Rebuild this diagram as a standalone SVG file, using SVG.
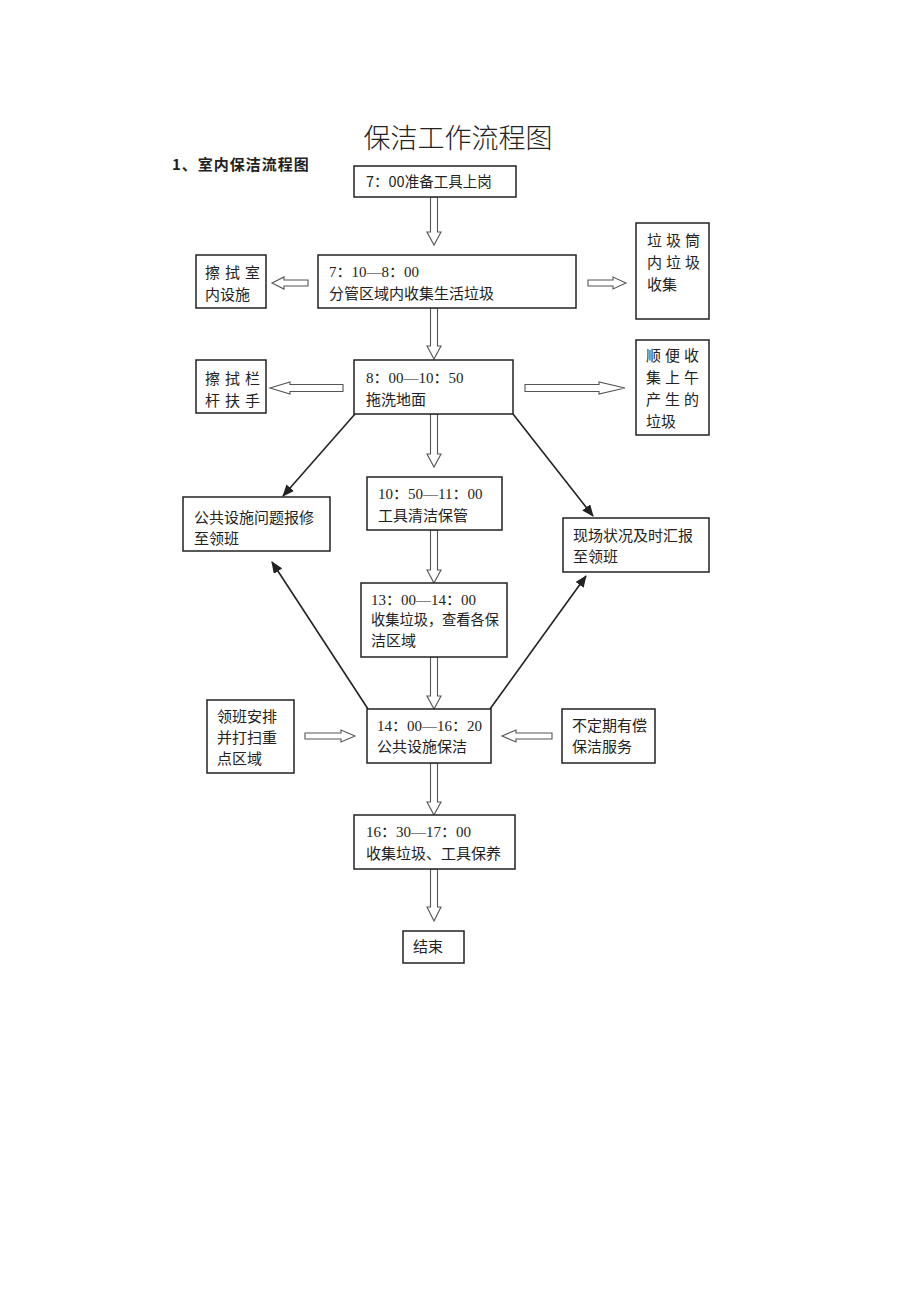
<svg xmlns="http://www.w3.org/2000/svg" width="920" height="1301" viewBox="0 0 920 1301">
<style>
.bx{fill:#fff;stroke:#222;stroke-width:1.5}
.t{font-family:"Liberation Serif","Noto Sans CJK SC",serif;font-size:15px;fill:#222}
.ts{font-family:"Noto Sans CJK SC",sans-serif;font-size:14.5px;fill:#222}
.sp{letter-spacing:5px}
.ha{fill:#fff;stroke:#555;stroke-width:1.1;stroke-linejoin:miter}
.dl{fill:none;stroke:#222;stroke-width:1.6}
</style>
<defs>
<marker id="ah" markerUnits="userSpaceOnUse" markerWidth="12" markerHeight="10" viewBox="0 0 12 10" refX="11" refY="5" orient="auto">
<path d="M0,0 L12,5 L0,10 z" fill="#222"/>
</marker>
</defs>
<rect width="920" height="1301" fill="#fff"/>
<text x="458" y="148" text-anchor="middle" font-family="Noto Sans CJK SC, sans-serif" font-size="27" fill="#222" font-weight="300">保洁工作流程图</text>
<text x="172" y="170" font-family="Noto Sans CJK SC, sans-serif" font-size="15" font-weight="bold" fill="#222" letter-spacing="1">1、室内保洁流程图</text>

<g id="connectors">
<polygon class="ha" points="430.5,197 437.5,197 437.5,232 441,232 434,245 427,232 430.5,232"/>
<polygon class="ha" points="430.5,308 437.5,308 437.5,346 441,346 434,359 427,346 430.5,346"/>
<polygon class="ha" points="430.5,414 437.5,414 437.5,454 441,454 434,467 427,454 430.5,454"/>
<polygon class="ha" points="430.5,530 437.5,530 437.5,570 441,570 434,583 427,570 430.5,570"/>
<polygon class="ha" points="430.5,657 437.5,657 437.5,696 441,696 434,709 427,696 430.5,696"/>
<polygon class="ha" points="430.5,763 437.5,763 437.5,802 441,802 434,815 427,802 430.5,802"/>
<polygon class="ha" points="430.5,869 437.5,869 437.5,907 441,907 434,921 427,907 430.5,907"/>
<polygon class="ha" points="308,280 308,286 284,286 284,289 272,283 284,277 284,280"/>
<polygon class="ha" points="588,280 613,280 613,277 626,283 613,289 613,286 588,286"/>
<polygon class="ha" points="343,384.5 343,391.5 290,391.5 290,394 270,388 290,382 290,384.5"/>
<polygon class="ha" points="525,384.5 599,384.5 599,382 625,388 599,394 599,391.5 525,391.5"/>
<polygon class="ha" points="305,733 341,733 341,730 355,736 341,742 341,739 305,739"/>
<polygon class="ha" points="552,733 516,733 516,730 502,736 516,742 516,739 552,739"/>
<line class="dl" x1="355" y1="414" x2="283" y2="496" marker-end="url(#ah)"/>
<line class="dl" x1="513" y1="414" x2="593" y2="516" marker-end="url(#ah)"/>
<line class="dl" x1="368" y1="709" x2="272" y2="562" marker-end="url(#ah)"/>
<line class="dl" x1="490" y1="709" x2="586" y2="576" marker-end="url(#ah)"/>
</g>

<g id="n1"><rect class="bx" x="354" y="166" width="162" height="31"/><text class="ts" x="366" y="187">7：00准备工具上岗</text></g>
<g id="n2"><rect class="bx" x="318" y="255" width="258" height="53"/><text class="t" x="329" y="277">7：10—8：00</text><text class="t" x="329" y="299">分管区域内收集生活垃圾</text></g>
<g id="n3"><rect class="bx" x="196" y="255" width="70" height="53"/><text class="t sp" x="205" y="278">擦拭室</text><text class="t" x="205" y="300">内设施</text></g>
<g id="n4"><rect class="bx" x="636" y="223" width="73" height="96"/><text class="t" x="647" y="246" letter-spacing="4">垃圾筒</text><text class="t" x="647" y="268" letter-spacing="4">内垃圾</text><text class="t" x="647" y="290">收集</text></g>
<g id="n5"><rect class="bx" x="196" y="360" width="70" height="53"/><text class="t sp" x="205" y="384">擦拭栏</text><text class="t sp" x="205" y="406">杆扶手</text></g>
<g id="n6"><rect class="bx" x="354" y="360" width="159" height="54"/><text class="t" x="366" y="383">8：00—10：50</text><text class="t" x="366" y="405">拖洗地面</text></g>
<g id="n7"><rect class="bx" x="636" y="340" width="73" height="95"/><text class="t" x="646" y="361" letter-spacing="4">顺便收</text><text class="t" x="646" y="383" letter-spacing="4">集上午</text><text class="t" x="646" y="405" letter-spacing="4">产生的</text><text class="t" x="646" y="427">垃圾</text></g>
<g id="n8"><rect class="bx" x="367" y="477" width="135" height="53"/><text class="t" x="378" y="499">10：50—11：00</text><text class="t" x="378" y="521">工具清洁保管</text></g>
<g id="n9"><rect class="bx" x="183" y="497" width="147" height="54"/><text class="t" x="194" y="523">公共设施问题报修</text><text class="t" x="194" y="544">至领班</text></g>
<g id="n10"><rect class="bx" x="563" y="518" width="146" height="54"/><text class="t" x="573" y="541">现场状况及时汇报</text><text class="t" x="573" y="562">至领班</text></g>
<g id="n11"><rect class="bx" x="361" y="583" width="146" height="74"/><text class="t" x="371" y="605">13：00—14：00</text><text class="t" x="371" y="625" textLength="128" lengthAdjust="spacingAndGlyphs">收集垃圾，查看各保</text><text class="t" x="371" y="646">洁区域</text></g>
<g id="n12"><rect class="bx" x="207" y="700" width="87" height="73"/><text class="t" x="217" y="722">领班安排</text><text class="t" x="217" y="743">并打扫重</text><text class="t" x="217" y="764">点区域</text></g>
<g id="n13"><rect class="bx" x="367" y="709" width="124" height="54"/><text class="t" x="377" y="731">14：00—16：20</text><text class="t" x="377" y="752">公共设施保洁</text></g>
<g id="n14"><rect class="bx" x="562" y="709" width="93" height="54"/><text class="t" x="572" y="731">不定期有偿</text><text class="t" x="572" y="752">保洁服务</text></g>
<g id="n15"><rect class="bx" x="354" y="815" width="161" height="54"/><text class="t" x="366" y="837">16：30—17：00</text><text class="t" x="366" y="859">收集垃圾、工具保养</text></g>
<g id="n16"><rect class="bx" x="403" y="931" width="61" height="32"/><text class="t" x="413" y="952">结束</text></g>
</svg>
